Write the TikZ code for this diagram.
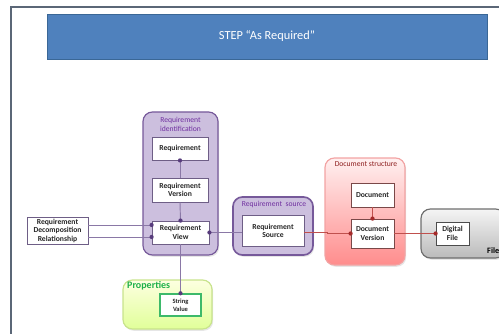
\documentclass[tikz,border=0pt]{standalone}
\usepackage{fontspec}
\setmainfont{Carlito}
\usetikzlibrary{shadows}
\definecolor{FrameGray}{HTML}{5B6777}
\definecolor{STEPBlue}{HTML}{4F81BD}
\definecolor{STEPBlueDk}{HTML}{3A6796}
\definecolor{ReqLine}{HTML}{76599A}
\definecolor{ReqBox}{HTML}{6E5E86}
\definecolor{ReqFill}{HTML}{CCBFDE}
\definecolor{ReqText}{HTML}{7030A0}
\definecolor{ReqLink}{HTML}{8A78A6}
\definecolor{ReqDot}{HTML}{573B7C}
\definecolor{PropLine}{HTML}{C8E38C}
\definecolor{PropText}{HTML}{1DB04A}
\definecolor{PropBox}{HTML}{3DB96A}
\definecolor{DocLine}{HTML}{F2A3A3}
\definecolor{DocText}{HTML}{8E1F1F}
\definecolor{DocBox}{HTML}{7A4848}
\definecolor{DocLink}{HTML}{C0504D}
\definecolor{DocDot}{HTML}{A52A2A}
\definecolor{FileLine}{HTML}{6E6E6E}

\begin{document}
\begin{tikzpicture}[x=0.85pt,y=-0.85pt,
  sz/.style 2 args={minimum width=#1*0.85pt,minimum height=#2*0.85pt},
  banner/.style={fill=STEPBlue,draw=STEPBlueDk,line width=0.8pt,text=white,font=\fontsize{10.5}{12}\selectfont},
  group/.style={rounded corners=8pt,line width=1pt,drop shadow={opacity=0.2,shadow xshift=1pt,shadow yshift=-1.5pt}},
  grouptitle/.style={text=#1,align=center,inner sep=0pt,font=\fontsize{6.5}{7.2}\selectfont},
  item/.style={draw=#1,fill=white,line width=0.7pt,inner sep=1pt,align=center,text=black!85,font=\fontsize{6.5}{7.2}\selectfont\bfseries},
  dot/.style={circle,fill=#1,inner sep=0pt,minimum size=3.6pt},
  reqlink/.style={draw=ReqLink,line width=0.8pt},
  doclink/.style={draw=DocLink,line width=0.8pt}
]
  \clip (0,0) rectangle (499,334);
  \draw[FrameGray,line width=1.6pt] (11,334) -- (11,7) -- (499,7);
  \node[banner,sz={440}{45}] (banner) at (267,36.5) {STEP “As Required”};

  \node[group,fill=ReqFill,draw=ReqLine,sz={75}{143}] (reqid) at (180.5,183.5) {};
  \node[grouptitle=ReqText] (reqidT) at (180.5,124.5) {Requirement\\identification};
  \node[group,fill=ReqFill,draw=ReqLine,line width=1.4pt,sz={80}{58}] (srcgrp) at (273,226) {};
  \node[grouptitle=ReqText] (srcgrpT) at (274,204) {Requirement~ source};
  \node[group,top color=red!6,bottom color=red!45,draw=DocLine,sz={80}{107}] (docgrp) at (365,211.5) {};
  \node[grouptitle=DocText] (docgrpT) at (366,164) {Document structure};
  \node[group,top color=black!4,bottom color=black!27,draw=FileLine,sz={84}{49}] (filegrp) at (463,233.5) {};
  \node[grouptitle=black,anchor=west,font=\fontsize{7}{8}\selectfont\bfseries] (filegrpT) at (487,251) {File};
  \node[group,top color=green!6!yellow!12,bottom color=green!30!yellow!40,draw=PropLine,sz={89}{49}] (propgrp) at (167.5,304.5) {};
  \node[grouptitle=PropText,anchor=west,font=\fontsize{8.5}{9}\selectfont\bfseries] (propgrpT) at (127,286) {Properties};

  \node[item=ReqBox,sz={56}{23}] (req) at (180,148.5) {Requirement};
  \node[item=ReqBox,sz={56}{24}] (ver) at (180,190) {Requirement\\Version};
  \node[item=ReqBox,sz={57}{23}] (rv) at (180.5,232.5) {Requirement\\View};
  \node[item=ReqBox,sz={61}{27}] (rdr) at (57.5,230.5) {Requirement\\Decomposition\\Relationship};
  \node[item=ReqBox,sz={62}{31}] (src) at (273,231) {Requirement\\Source};
  \node[item=DocBox,sz={43}{24}] (doc) at (372.5,195) {Document};
  \node[item=DocBox,sz={43}{29}] (dv) at (372.5,233.5) {Document\\Version};
  \node[item=black!70,sz={33}{23}] (df) at (452.5,233.5) {Digital\\File};
  \node[item=PropBox,line width=1.2pt,sz={41}{22},font=\fontsize{5.5}{6.5}\selectfont\bfseries] (sv) at (180.5,305) {String\\Value};

  \draw[reqlink] ([yshift=4.7pt]rdr.east) -- ([yshift=4.7pt]rdr.east -| rv.west) node[dot=ReqDot]{};
  \draw[reqlink] ([yshift=-5.5pt]rdr.east) -- ([yshift=-5.5pt]rdr.east -| rv.west) node[dot=ReqDot]{};
  \draw[reqlink] (req.south) node[dot=ReqDot]{} -- (ver.north);
  \draw[reqlink] (ver.south) -- (rv.north) node[dot=ReqDot]{};
  \draw[reqlink] (rv.south) -- (sv.north) node[dot=ReqDot]{};
  \draw[reqlink] (rv.east) node[dot=ReqDot]{} -- (rv.east -| src.west);
  \draw[doclink] (rv.east -| src.east) -- ++(23,0) |- (dv.west) node[dot=DocDot]{};
  \draw[doclink] (doc.south) -- (dv.north) node[dot=DocDot]{};
  \draw[doclink] (dv.east) -- (df.west) node[dot=DocDot]{};
\end{tikzpicture}
\end{document}
